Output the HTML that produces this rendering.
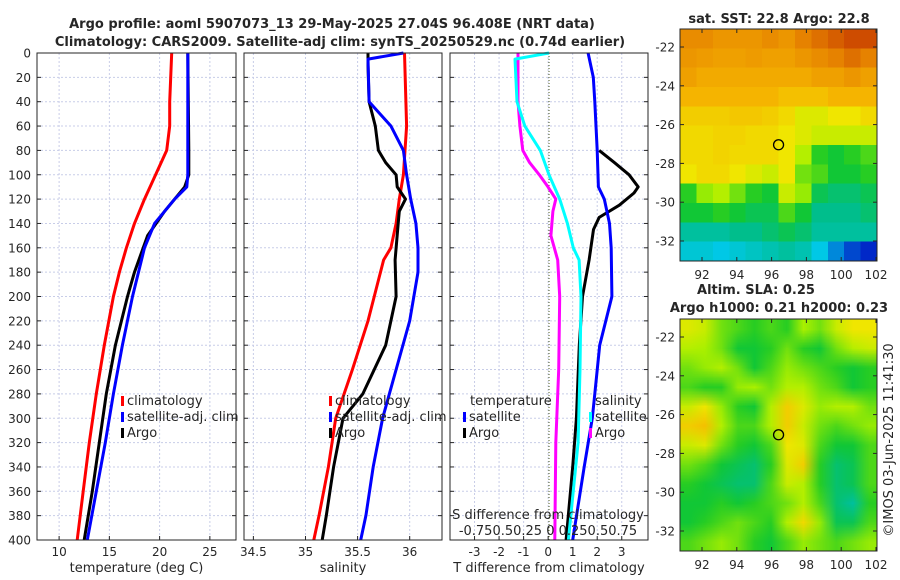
<!DOCTYPE html>
<html><head><meta charset="utf-8">
<style>
body{margin:0;background:#fff;width:900px;height:580px;overflow:hidden;font-family:"DejaVu Sans","Liberation Sans",sans-serif}
svg text{font-family:"DejaVu Sans","Liberation Sans",sans-serif;fill:#262626}
canvas{position:absolute}
</style></head><body>
<canvas id="sst" width="12" height="12" style="left:680px;top:29px;width:197px;height:232px;image-rendering:pixelated"></canvas>
<canvas id="sla" width="12" height="12" style="left:680px;top:319px;width:197px;height:232px"></canvas>
<svg id="chart" width="900" height="580" style="position:absolute;left:0;top:0"></svg>
<script>
// ---- data ----
const pT=[0,40,60,80,100,120,140,160,180,200,240,280,320,360,400];
const tClim=[21.2,21.0,21.0,20.7,19.6,18.5,17.5,16.7,16.0,15.4,14.5,13.7,13.0,12.4,11.8];
const pTs=[0,100,110,120,140,160,200,240,280,320,360,400];
const tSat=[22.8,22.8,22.7,21.5,19.5,18.5,17.3,16.3,15.4,14.6,13.7,12.8];
const pTa=[0,80,100,110,130,150,180,200,240,280,320,360,400];
const tArgo=[22.8,22.9,22.9,22.5,20.5,18.8,17.5,16.8,15.6,14.7,14.0,13.3,12.5];
const pS=[0,60,100,120,140,160,170,220,260,300,340,380,400];
const sClim=[35.95,35.97,35.94,35.9,35.87,35.82,35.75,35.6,35.45,35.29,35.22,35.13,35.08];
const pSs=[0,5,40,60,80,100,120,140,160,180,220,260,300,340,380,400];
const sSat=[35.94,35.6,35.61,35.82,35.94,35.97,36.01,36.06,36.08,36.08,36.0,35.87,35.74,35.65,35.58,35.53];
const pSa=[0,10,40,60,80,90,100,110,120,130,140,170,200,240,280,300,340,380,400];
const sArgo=[35.6,35.6,35.61,35.67,35.7,35.77,35.87,35.88,35.96,35.9,35.89,35.86,35.87,35.77,35.55,35.36,35.27,35.2,35.16];
const pD1=[0,20,40,80,110,120,140,160,200,240,280,300,340,400];
const dTsat=[1.63,1.84,1.9,2.0,2.05,2.29,2.5,2.57,2.6,2.1,1.9,1.8,1.47,1.0];
const pD2=[80,90,100,110,115,125,135,145,170,200,240,300,340,400];
const dTargo=[2.08,2.7,3.3,3.67,3.5,2.9,2.08,1.85,1.67,1.4,1.27,1.15,1.0,0.73];
const pD3=[0,5,40,60,80,100,120,140,160,170,200,260,320,400];
const dSsat=[0,-0.35,-0.33,-0.25,-0.09,0,0.11,0.19,0.25,0.31,0.33,0.32,0.3,0.2];
const pD4=[0,40,60,80,90,100,110,120,130,150,170,200,260,320,400];
const dSargo=[-0.32,-0.32,-0.3,-0.27,-0.2,-0.1,-0.01,0.07,0.04,0.02,0.09,0.11,0.1,0.07,0.06];
const sstGrid=[
[.78,.78,.76,.76,.76,.78,.76,.80,.82,.84,.86,.86],
[.76,.75,.74,.74,.75,.74,.74,.76,.78,.80,.82,.80],
[.74,.72,.72,.72,.72,.72,.72,.72,.74,.74,.76,.74],
[.70,.70,.70,.70,.70,.70,.68,.68,.68,.70,.70,.70],
[.66,.66,.66,.67,.67,.66,.64,.60,.60,.62,.62,.64],
[.64,.64,.65,.65,.64,.64,.62,.60,.58,.58,.58,.58],
[.64,.64,.65,.64,.64,.64,.62,.56,.48,.46,.48,.50],
[.62,.64,.64,.62,.60,.58,.62,.52,.50,.46,.46,.48],
[.48,.54,.56,.52,.48,.46,.58,.54,.44,.42,.42,.44],
[.46,.46,.48,.46,.44,.44,.50,.46,.40,.40,.40,.42],
[.38,.38,.38,.40,.40,.42,.44,.42,.38,.38,.38,.38],
[.32,.32,.30,.32,.34,.36,.38,.36,.30,.24,.18,.15]];
const slaGrid=[
[.60,.58,.52,.50,.48,.50,.48,.55,.52,.58,.62,.62],
[.56,.55,.52,.46,.46,.48,.52,.48,.46,.52,.56,.58],
[.52,.54,.56,.52,.46,.50,.54,.52,.50,.48,.46,.48],
[.50,.48,.48,.54,.55,.52,.56,.56,.52,.50,.46,.48],
[.58,.62,.54,.48,.46,.56,.66,.60,.54,.56,.56,.52],
[.66,.68,.56,.50,.50,.56,.66,.58,.52,.50,.52,.54],
[.58,.60,.52,.48,.46,.50,.62,.60,.50,.46,.46,.50],
[.52,.50,.46,.44,.42,.48,.60,.66,.48,.42,.44,.50],
[.48,.46,.44,.42,.42,.50,.58,.56,.48,.42,.44,.50],
[.46,.46,.48,.46,.48,.50,.52,.56,.50,.42,.38,.48],
[.46,.48,.50,.52,.50,.48,.56,.64,.54,.44,.44,.50],
[.50,.52,.54,.52,.48,.46,.50,.54,.52,.50,.52,.54]];
const pTicks=[0,20,40,60,80,100,120,140,160,180,200,220,240,260,280,300,320,340,360,380,400];
const tTicks=[10,15,20,25];
const sTicks=[34.5,35,35.5,36];
const dTicks=[-3,-2,-1,0,1,2,3];
const latTicks=[-22,-24,-26,-28,-30,-32];
const lonTicks=[92,94,96,98,100,102];
const argoLon=96.4, argoLat=-27.04;

// ---- helpers ----
const svg=document.getElementById('chart');
const NS='http://www.w3.org/2000/svg';
function mk(tag,attrs,parent){const e=document.createElementNS(NS,tag);for(const k in attrs)e.setAttribute(k,attrs[k]);(parent||svg).appendChild(e);return e;}
const Y0=53,Y1=540;
const yP=p=>Y0+(p/400)*(Y1-Y0);
function lin(d0,d1,r0,r1){return v=>r0+(v-d0)/(d1-d0)*(r1-r0);}
const panels=[
 {x0:37,x1:236,sc:lin(7.8,27.6,37,236),ticks:tTicks,label:'temperature (deg C)'},
 {x0:244,x1:442,sc:lin(34.41,36.31,244,442),ticks:sTicks,label:'salinity'},
 {x0:450,x1:648,sc:lin(-4.0,4.07,450,648),ticks:dTicks,label:'T difference from climatology'}];
const sD=v=>549+v*97;

panels.forEach((pn,i)=>{
  const g=mk('g',{});
  
  
  pTicks.forEach(p=>{mk('line',{x1:pn.x0,x2:pn.x1,y1:yP(p),y2:yP(p),stroke:'#c8cde8','stroke-width':1,'stroke-dasharray':'2,2'},g);});
  pn.ticks.forEach(t=>{const x=pn.sc(t);mk('line',{x1:x,x2:x,y1:Y0,y2:Y1,stroke:'#c8cde8','stroke-width':1,'stroke-dasharray':'2,2'},g);
    mk('line',{x1:x,x2:x,y1:Y1,y2:Y1-4,stroke:'#262626'},g);
    const tx=mk('text',{x:x,y:556,'font-size':12,'text-anchor':'middle'},g);tx.textContent=String(t);
    });
  pTicks.forEach(p=>{mk('line',{x1:pn.x0,x2:pn.x0+4,y1:yP(p),y2:yP(p),stroke:'#262626'},g);mk('line',{x1:pn.x1,x2:pn.x1-4,y1:yP(p),y2:yP(p),stroke:'#262626'},g);});
  const xl=mk('text',{x:(pn.x0+pn.x1)/2,y:572,'font-size':13,'text-anchor':'middle'},g);xl.textContent=pn.label;
  
});
pTicks.forEach(p=>{const t=mk('text',{x:31,y:yP(p)+4.5,'font-size':12,'text-anchor':'end'});t.textContent=String(p);
 });

function line(ps,vs,sc,color,name,w){
  const d=ps.map((p,i)=>(i?'L':'M')+sc(vs[i]).toFixed(1)+','+yP(p).toFixed(1)).join(' ');
  const e=mk('path',{d:d,fill:'none',stroke:color,'stroke-width':w||3,'stroke-linejoin':'round'});
  
  
}
const s1=panels[0].sc,s2=panels[1].sc,s3=panels[2].sc;
line(pT,tClim,s1,'#ff0000','temp-climatology-line');
line(pTa,tArgo,s1,'#000000','temp-argo-line');
line(pTs,tSat,s1,'#0000ff','temp-satellite-line');
line(pS,sClim,s2,'#ff0000','sal-climatology-line');
line(pSa,sArgo,s2,'#000000','sal-argo-line');
line(pSs,sSat,s2,'#0000ff','sal-satellite-line');
mk('line',{x1:549,x2:549,y1:Y0,y2:Y1,stroke:'#4b5a20','stroke-width':1,'stroke-dasharray':'1,2'});
line(pD2,dTargo,s3,'#000000','tdiff-argo-line');
line(pD1,dTsat,s3,'#0000ff','tdiff-satellite-line');
line(pD4,dSargo,sD,'#ff00ff','sdiff-argo-line');
line(pD3,dSsat,sD,'#00ffff','sdiff-satellite-line');
panels.forEach(pn=>{const r=mk('rect',{x:pn.x0,y:Y0,width:pn.x1-pn.x0,height:Y1-Y0,fill:'none',stroke:'#262626','stroke-width':1});
 });

function txt(x,y,s,size,name,extra){const t=mk('text',Object.assign({x:x,y:y,'font-size':size},extra||{}));t.textContent=s;
 return t;}
function leg(x,y,color,label,name){mk('rect',{x:x,y:y-9,width:3,height:10,fill:color});txt(x+6,y,label,13,name);}
leg(121,405,'#ff0000','climatology','legend-climatology');
leg(121,421,'#0000ff','satellite-adj. clim','legend-satellite');
leg(121,437,'#000000','Argo','legend-argo');
leg(329,405,'#ff0000','climatology','legend-climatology-2');
leg(329,421,'#0000ff','satellite-adj. clim','legend-satellite-2');
leg(329,437,'#000000','Argo','legend-argo-2');
txt(470,405,'temperature',13,'legend-temperature-header');
leg(463,421,'#0000ff','satellite','legend-t-satellite');
leg(463,437,'#000000','Argo','legend-t-argo');
txt(595,405,'salinity',13,'legend-salinity-header');
leg(589,421,'#00ffff','satellite','legend-s-satellite');
leg(589,437,'#ff00ff','Argo','legend-s-argo');
txt(548,519,'S difference from climatology',13,'s-axis-title',{'text-anchor':'middle'});
txt(548,535,'-0.750.50.25 0 0.250.50.75',13,'s-axis-ticks',{'text-anchor':'middle'});
txt(332,28,'Argo profile: aoml 5907073_13 29-May-2025 27.04S 96.408E (NRT data)',13,'title-line-1',{'text-anchor':'middle','font-weight':'bold'});
txt(340,46,'Climatology: CARS2009. Satellite-adj clim: synTS_20250529.nc (0.74d earlier)',13,'title-line-2',{'text-anchor':'middle','font-weight':'bold'});

function cmap(v){const st=[[.1,0,20,160],[.15,0,40,200],[.3,0,200,230],[.4,0,190,140],[.47,20,200,40],[.55,170,240,0],[.62,240,230,0],[.7,245,180,0],[.8,230,130,0],[.9,190,40,0]];
 if(v<=st[0][0])return st[0].slice(1);for(let i=1;i<st.length;i++){if(v<=st[i][0]){const a=st[i-1],b=st[i],f=(v-a[0])/(b[0]-a[0]);return [0,1,2].map(k=>a[k+1]+f*(b[k+1]-a[k+1]));}}return st[st.length-1].slice(1);}
function drawGrid(id,grid){const c=document.getElementById(id),ctx=c.getContext('2d'),im=ctx.createImageData(12,12);
 grid.forEach((row,r)=>row.forEach((v,k)=>{const col=cmap(v),i=(r*12+k)*4;im.data[i]=col[0];im.data[i+1]=col[1];im.data[i+2]=col[2];im.data[i+3]=255;}));ctx.putImageData(im,0,0);}
drawGrid('sst',sstGrid);drawGrid('sla',slaGrid);
function mapAxes(top,name){
 const lonS=lin(92,102,702,876), latS=lin(-22,-32,top+18,top+212);
 const g=mk('g',{});
 mk('rect',{x:680,y:top,width:197,height:232,fill:'none',stroke:'#262626'},g);
 latTicks.forEach(l=>{const y=latS(l);mk('line',{x1:680,x2:684,y1:y,y2:y,stroke:'#262626'},g);mk('line',{x1:877,x2:873,y1:y,y2:y,stroke:'#262626'},g);
  const t=txt(675,y+4.5,String(l),12,'lat-tick-label',{'text-anchor':'end'});g.appendChild(t);});
 lonTicks.forEach(l=>{const x=lonS(l);mk('line',{x1:x,x2:x,y1:top+232,y2:top+228,stroke:'#262626'},g);mk('line',{x1:x,x2:x,y1:top,y2:top+4,stroke:'#262626'},g);
  const t=txt(x,top+250,String(l),12,'lon-tick-label',{'text-anchor':'middle'});g.appendChild(t);});
 const c=mk('circle',{cx:lonS(argoLon),cy:latS(argoLat),r:5,fill:'none',stroke:'#000','stroke-width':1.3},g);
 
}
mapAxes(29,'sst-map-axes');mapAxes(319,'sla-map-axes');
txt(779,23,'sat. SST: 22.8 Argo: 22.8',13,'sst-map-title',{'text-anchor':'middle','font-weight':'bold'});
txt(756,294,'Altim. SLA: 0.25',13,'sla-map-title',{'text-anchor':'middle','font-weight':'bold'});
txt(779,312,'Argo h1000: 0.21 h2000: 0.23',13,'sla-map-subtitle',{'text-anchor':'middle','font-weight':'bold'});
txt(0,0,'©IMOS 03-Jun-2025 11:41:30',13,'timestamp',{transform:'translate(893,440) rotate(-90)','text-anchor':'middle'});
</script>
</body></html>
